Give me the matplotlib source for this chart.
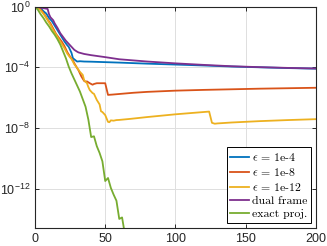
import numpy as np
import matplotlib
matplotlib.use("Agg")
import matplotlib.pyplot as plt
from matplotlib.ticker import FixedLocator, FixedFormatter, NullLocator

# iterations and log10 of the error for each method
it_e4 = [0, 2, 4, 6, 8, 10, 12, 13, 15, 17, 19, 21, 23, 24, 26, 27, 29, 30, 32, 35, 40, 50, 60, 80, 100, 120, 140, 160, 180, 200]
log_e4 = [0, -0.05, -0.1, -0.3, -0.45, -0.75, -0.95, -1.1, -1.4, -1.7, -2.0, -2.3, -2.55, -2.65, -3.05, -3.4, -3.55, -3.62, -3.6, -3.62,
          -3.63, -3.66, -3.69, -3.76, -3.82, -3.88, -3.95, -4.0, -4.05, -4.09]

it_e8 = [0, 3, 5, 7, 9, 11, 13, 15, 17, 19, 21, 23, 25, 27, 28, 30, 31, 33, 35, 36, 37, 39, 41, 42, 44, 50, 52, 55, 60, 70,
         80, 90, 100, 120, 140, 160, 180, 200]
log_e8 = [0, -0.1, -0.3, -0.55, -0.85, -1.1, -1.45, -1.8, -2.05, -2.3, -2.6, -3.0, -3.3, -3.55, -3.73, -4.05, -4.2, -4.6, -4.9, -4.95,
          -4.93, -5.05, -5.15, -5.1, -5.05, -5.05, -5.82, -5.8, -5.76, -5.68, -5.62, -5.58, -5.54, -5.49, -5.45, -5.41, -5.38, -5.35]

it_e12 = [0, 3, 5, 7, 9, 11, 13, 15, 17, 19, 21, 23, 25, 26, 28, 30, 32, 34, 35, 37, 38, 39, 41, 42, 44, 46, 47, 48, 50, 52,
          53, 54, 56, 58, 60, 68, 80, 100, 124, 126, 128, 130, 140, 160, 180, 200]
log_e12 = [0, -0.15, -0.35, -0.6, -0.9, -1.2, -1.55, -1.85, -2.15, -2.45, -2.75, -3.1, -3.35, -3.45, -3.8, -4.05, -4.3, -4.5, -4.85, -5.05,
           -5.3, -5.5, -5.7, -5.75, -6.15, -6.45, -6.9, -6.95, -7.15, -7.6, -7.62, -7.5, -7.52, -7.48, -7.47, -7.4, -7.28, -7.1, -6.92, -7.66,
           -7.72, -7.7, -7.64, -7.55, -7.48, -7.42]

it_dual = [0, 3, 6, 9, 10, 11, 13, 14, 16, 18, 20, 22, 23, 25, 26, 28, 30, 31, 33, 35, 40, 50, 60, 80, 100, 120, 140, 160, 180, 200]
log_dual = [0, -0.05, -0.1, -0.15, -0.5, -0.7, -0.9, -1.1, -1.4, -1.75, -2.0, -2.25, -2.35, -2.55, -2.65, -2.85, -2.97, -3.02, -3.07, -3.12,
            -3.2, -3.33, -3.47, -3.62, -3.74, -3.84, -3.93, -3.99, -4.04, -4.08]

it_exact = [0, 2, 4, 6, 8, 10, 12, 14, 16, 18, 20, 22, 24, 26, 28, 30, 32, 34, 36, 38, 40, 42, 44, 46, 48, 50, 52, 54, 56, 58,
            60, 62, 64]
log_exact = [0, -0.2, -0.5, -0.75, -1.05, -1.3, -1.6, -1.85, -2.15, -2.5, -2.95, -3.4, -3.95, -4.4, -4.8, -5.2, -5.6, -6.1, -6.6, -7.45,
             -8.6, -8.55, -9.2, -9.65, -10.2, -11.5, -11.3, -11.95, -12.4, -12.8, -14.0, -13.9, -15.0]

labels = [r'$\epsilon$ = 1e-4', r'$\epsilon$ = 1e-8', r'$\epsilon$ = 1e-12', 'dual frame', 'exact proj.']
colors = ['#0072BD', '#D95319', '#EDB120', '#7E2F8E', '#77AC30']

plt.rcParams['font.family'] = ['Liberation Sans', 'DejaVu Sans']
plt.rcParams['mathtext.fontset'] = 'custom'
plt.rcParams['mathtext.rm'] = 'Liberation Sans'
plt.rcParams['mathtext.it'] = 'Liberation Sans:italic'

fig = plt.figure(figsize=(3.27, 2.46), dpi=100)
ax = fig.add_axes([0.107, 0.073, 0.859, 0.9])

series = [(it_e4, log_e4), (it_e8, log_e8), (it_e12, log_e12), (it_dual, log_dual), (it_exact, log_exact)]
for (x, y), lab, c in zip(series, labels, colors):
    ax.semilogy(x, 10.0 ** np.array(y), color=c, lw=1.3, label=lab)

ax.set_xlim(0, 200)
ax.set_ylim(10 ** -14.6, 1)
ax.set_xticks([0, 50, 100, 150, 200])
ax.yaxis.set_major_locator(FixedLocator([1e-12, 1e-8, 1e-4, 1]))
ax.yaxis.set_major_formatter(FixedFormatter([r'$10^{-12}$', r'$10^{-8}$', r'$10^{-4}$', r'$10^{0}$']))
ax.yaxis.set_minor_locator(NullLocator())
ax.grid(True, color='#dfdfdf', lw=0.7)
ax.set_axisbelow(True)
ax.tick_params(direction='in', length=3, width=0.7, colors='#262626', labelsize=9, top=True, right=True)
for s in ax.spines.values():
    s.set_color('#262626')
    s.set_linewidth(0.8)

leg = ax.legend(loc='lower right', fontsize=8.5, frameon=True, fancybox=False, framealpha=1,
                edgecolor='black', handlelength=1.6, handletextpad=0.2, labelspacing=0.25,
                borderpad=0.3, borderaxespad=0.45)
leg.get_frame().set_linewidth(0.7)
for t in leg.get_texts():
    t.set_family('cmr10')
    t.set_math_fontfamily('cm')

fig.savefig('out.png', dpi=100)
